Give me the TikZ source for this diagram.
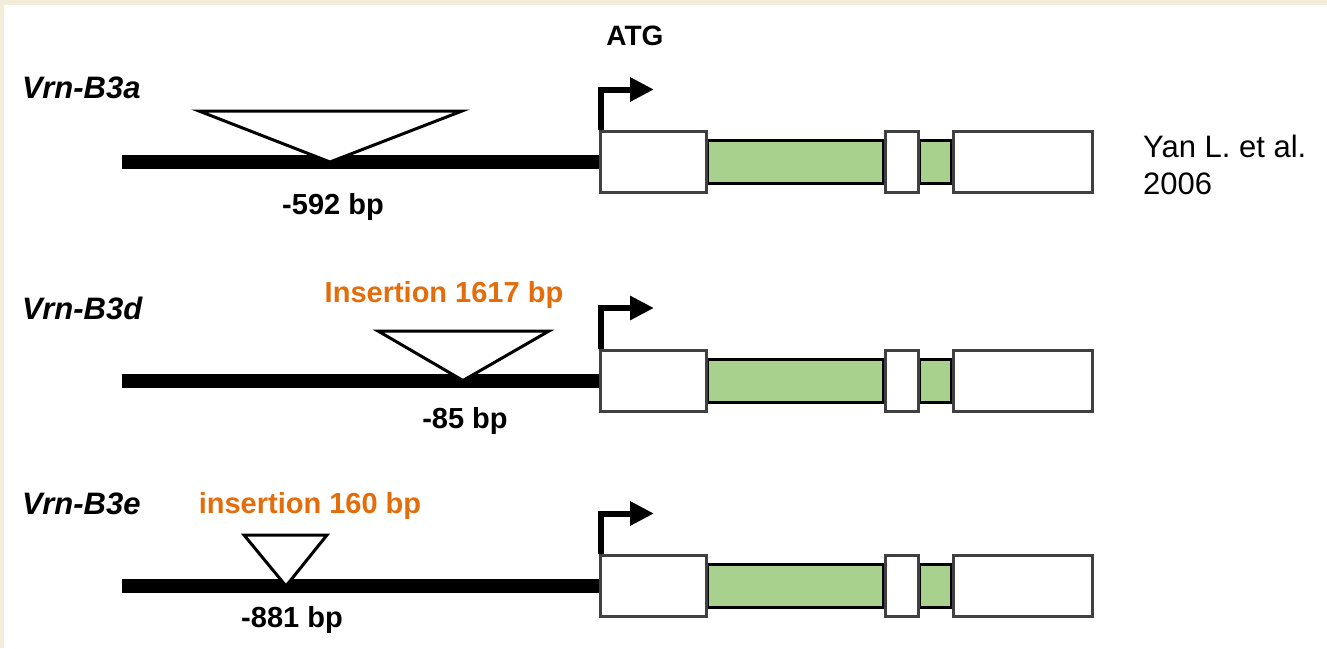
\documentclass[tikz,border=0pt]{standalone}
\usepackage{fontspec}
\setmainfont{Liberation Sans}
\usepackage{xcolor}
\usepackage{tikz}
\usetikzlibrary{arrows.meta, positioning, backgrounds}
\definecolor{VerdeIntrone}{HTML}{A9D18E}
\definecolor{GrigioBordo}{HTML}{404040}
\definecolor{Arancio}{RGB}{228,108,10}
\definecolor{Cornice}{RGB}{243,236,218}
\tikzset{
  % Struttura del gene
  esone/.style={rectangle,draw=GrigioBordo,line width=3pt,fill=white,inner sep=0pt,minimum height=61pt},
  introne/.style={draw=black,line width=3pt,fill=VerdeIntrone},
  promotore/.style={line width=14pt,black},
  inserzione/.style={draw=black,line width=3pt,fill=white,line join=miter},
  inizio/.style={line width=6pt,-{Triangle[length=24pt,width=23pt]},line join=miter},
  % Testi
  allele/.style={font=\fontsize{31}{36}\selectfont\bfseries\itshape,anchor=base west,inner sep=0pt},
  posiz/.style={font=\fontsize{29}{34}\selectfont\bfseries,anchor=base,inner sep=0pt},
  ins/.style={posiz,text=Arancio}
}

\begin{document}
\begin{tikzpicture}[x=1pt,y=-1pt]
  \begin{scope}[on background layer]
    \fill[Cornice] (0,0) rectangle (1327,648);
    \fill[white] (4,5) rectangle (1327,648);
  \end{scope}
  \useasboundingbox (0,0) rectangle (1327,648);

  \foreach \r/\y in {1/162,2/380.5,3/586}{
    \coordinate (p0-\r) at (122,\y);
    \coordinate (atg-\r) at (654,\y-72.5);
    \node[esone,minimum width=106pt] (e1-\r) at (653,\y) {};
    \node[esone,minimum width=33pt] (e2-\r) at (901.5,\y) {};
    \node[esone,minimum width=139pt] (e3-\r) at (1022.5,\y) {};
    \begin{scope}[on background layer]
      \draw[introne] ([yshift=21.5pt]e1-\r.east) rectangle ([yshift=-21.5pt]e2-\r.west);
      \draw[introne] ([yshift=21.5pt]e2-\r.east) rectangle ([yshift=-21.5pt]e3-\r.west);
    \end{scope}
    \draw[promotore] (p0-\r) -- (e1-\r.west);
    \draw[inizio] ([xshift=2pt]e1-\r.north west) |- (atg-\r);
  }

  \draw[inserzione] (199,111) -- (462,111) -- (330,162) -- cycle;
  \draw[inserzione] (378,331) -- (549,331) -- (463,380.5) -- cycle;
  \draw[inserzione] (244,535) -- (327,535) -- (286,586) -- cycle;

  \node[allele] (all-1) at (22,98) {Vrn-B3a};
  \node[allele] (all-2) at (22,319) {Vrn-B3d};
  \node[allele] (all-3) at (22,514) {Vrn-B3e};

  \node[posiz] (pos-1) at (333,214) {-592 bp};
  \node[posiz] (pos-2) at (465,428) {-85 bp};
  \node[posiz] (pos-3) at (292,627) {-881 bp};
  \node[ins] (ins-2) at (444,302) {Insertion 1617 bp};
  \node[ins] (ins-3) at (310,513) {insertion 160 bp};

  \node[posiz,font=\fontsize{28}{33}\selectfont\bfseries] (atg) at (635,45) {ATG};
  \node[font=\fontsize{31}{37}\selectfont,align=left,anchor=base west,inner sep=0pt] (rif) at (1143,194) {Yan L. et al.\\2006};
\end{tikzpicture}
\end{document}
